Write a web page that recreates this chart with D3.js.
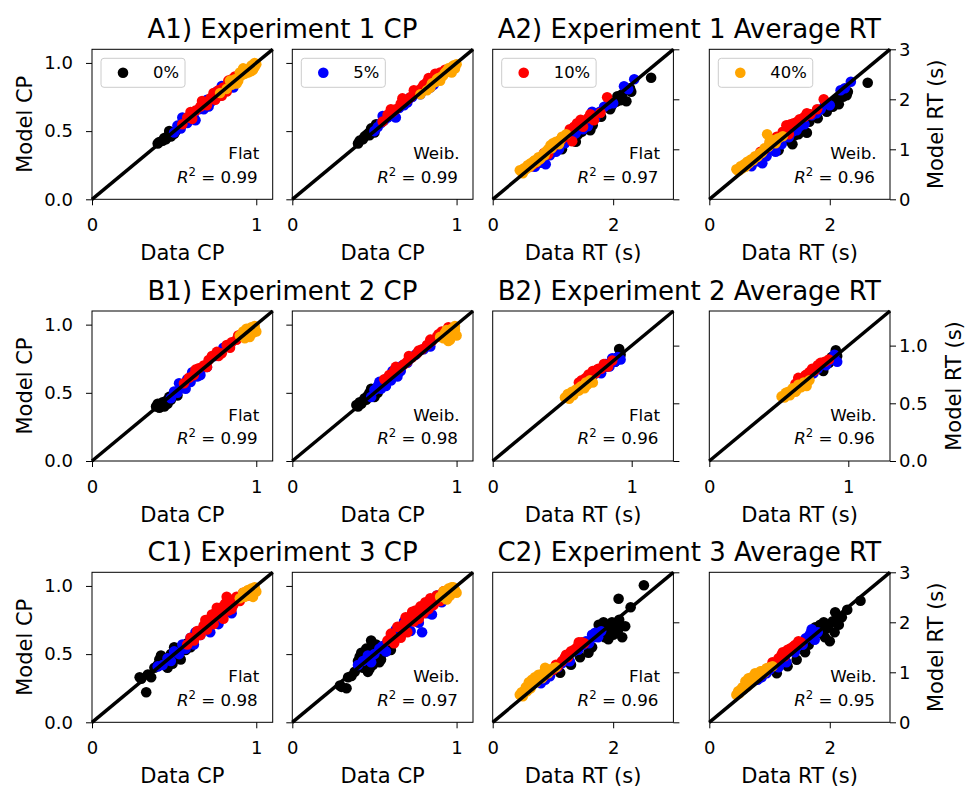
<!DOCTYPE html>
<html>
<head>
<meta charset="utf-8">
<script src="https://cdn.jsdelivr.net/npm/d3@7"></script>
<style>
  body { margin: 0; background: #fff; }
  svg { display: block; font-family: "DejaVu Sans", sans-serif; }
</style>
</head>
<body>
<script>
// conditions (legend) and the two models
const conditions = ["0%", "5%", "10%", "40%"];
const models = ["Flat", "Weib."];
const titles = [
  ["A1) Experiment 1 CP", "A2) Experiment 1 Average RT"],
  ["B1) Experiment 2 CP", "B2) Experiment 2 Average RT"],
  ["C1) Experiment 3 CP", "C2) Experiment 3 Average RT"]
];
const r2CP = [[0.99, 0.99], [0.99, 0.98], [0.98, 0.97]];
const r2RT = [[0.97, 0.96], [0.96, 0.96], [0.96, 0.95]];

// tick values / axis maxima
const cpMax = 1.1, cpXTicks = [0, 1], cpYTicks = [0, 0.5, 1.0];
const rtMax = 3, rtXTicks = [0, 2], rtYTicks = [0, 1, 2, 3];
const rt2Max = 1.3, rt2XTicks = [0, 1], rt2YTicks = [0, 0.5, 1.0];

// rows: [condition index, data, flat model, weibull model]
const exp1CP = [
  [0,0.40,0.41,0.41],[0,0.41,0.42,0.43],[0,0.43,0.43,0.44],[0,0.44,0.45,0.46],[0,0.45,0.44,0.47],[0,0.46,0.46,0.48],
  [0,0.47,0.47,0.49],[0,0.48,0.46,0.52],[0,0.49,0.49,0.50],[0,0.50,0.48,0.49],[0,0.51,0.50,0.55],[0,0.47,0.50,0.47],
  [1,0.50,0.49,0.50],[1,0.52,0.54,0.53],[1,0.54,0.52,0.56],[1,0.56,0.59,0.58],[1,0.58,0.56,0.60],[1,0.60,0.62,0.63],
  [1,0.62,0.60,0.61],[1,0.65,0.66,0.67],[1,0.68,0.66,0.69],[1,0.70,0.73,0.71],[1,0.73,0.72,0.75],[1,0.76,0.79,0.78],
  [1,0.78,0.76,0.77],[1,0.81,0.80,0.83],[1,0.84,0.85,0.82],[1,0.87,0.86,0.88],
  [1,0.55,0.60,0.61],[1,0.63,0.58,0.60],[1,0.71,0.68,0.74],[1,0.79,0.83,0.81],[1,0.86,0.82,0.84],
  [2,0.55,0.55,0.57],[2,0.58,0.60,0.62],[2,0.61,0.59,0.64],[2,0.63,0.65,0.66],[2,0.66,0.68,0.70],[2,0.68,0.71,0.72],
  [2,0.70,0.69,0.73],[2,0.72,0.74,0.75],[2,0.75,0.73,0.78],[2,0.77,0.80,0.80],[2,0.80,0.82,0.84],[2,0.82,0.79,0.86],
  [2,0.85,0.88,0.87],[2,0.88,0.86,0.90],[2,0.90,0.92,0.93],[2,0.93,0.94,0.95],
  [2,0.60,0.64,0.66],[2,0.67,0.72,0.74],[2,0.74,0.78,0.80],[2,0.83,0.87,0.89],[2,0.87,0.90,0.92],[2,0.79,0.76,0.82],
  [3,0.78,0.78,0.77],[3,0.82,0.81,0.80],[3,0.85,0.84,0.85],[3,0.87,0.88,0.86],[3,0.89,0.87,0.89],[3,0.91,0.91,0.90],
  [3,0.93,0.92,0.93],[3,0.94,0.95,0.94],[3,0.95,0.93,0.96],[3,0.96,0.96,0.95],[3,0.97,0.98,0.97],[3,0.98,0.95,0.98],
  [3,0.99,0.97,0.96],[3,1.00,0.99,0.99],[3,0.97,0.94,0.93],[3,0.99,1.00,0.98],
  [3,0.84,0.87,0.82],[3,0.88,0.85,0.88],[3,0.92,0.96,0.91],[3,0.90,0.93,0.87]
];
const exp1RT = [
  [0,1.15,1.00,0.98],[0,1.30,1.22,1.18],[0,1.38,1.15,1.10],[0,1.42,1.30,1.28],[0,1.55,1.45,1.40],[0,1.62,1.38,1.33],
  [0,1.66,1.48,1.55],[0,1.80,1.65,1.62],[0,1.95,1.80,1.75],[0,1.98,1.88,1.85],[0,2.07,2.06,1.95],[0,2.12,1.98,2.00],
  [0,2.15,2.10,1.90],[0,2.22,1.96,2.05],[0,2.28,2.22,2.08],[0,2.30,2.15,2.15],[0,2.63,2.43,2.33],
  [0,1.48,1.35,1.30],[0,2.05,1.95,1.85],
  [1,0.70,0.65,0.66],[1,0.80,0.73,0.76],[1,0.88,0.70,0.72],[1,0.95,0.88,0.86],[1,1.05,0.95,0.98],[1,1.10,1.00,0.95],
  [1,1.20,1.12,1.10],[1,1.32,1.25,1.24],[1,1.45,1.45,1.38],[1,1.50,1.40,1.46],[1,1.58,1.46,1.50],[1,1.65,1.75,1.70],
  [1,1.70,1.62,1.68],[1,1.85,1.85,1.80],[1,1.92,1.90,1.95],[1,2.00,1.92,1.88],[1,2.18,2.26,2.18],[1,2.35,2.40,2.35],
  [1,1.38,1.32,1.35],[1,1.78,1.75,1.72],[1,2.25,2.20,2.22],
  [2,0.62,0.65,0.68],[2,0.70,0.72,0.78],[2,0.78,0.80,0.85],[2,0.85,0.92,0.95],[2,0.92,0.90,1.00],[2,1.00,1.05,1.10],
  [2,1.08,1.12,1.20],[2,1.15,1.20,1.22],[2,1.22,1.25,1.35],[2,1.28,1.40,1.48],[2,1.32,1.16,1.30],[2,1.40,1.52,1.52],
  [2,1.46,1.59,1.55],[2,1.50,1.45,1.60],[2,1.58,1.62,1.65],[2,1.68,1.58,1.70],[2,1.79,1.73,1.80],[2,1.90,2.04,2.00],
  [2,1.12,1.18,1.25],[2,1.35,1.45,1.50],[2,1.62,1.70,1.72],
  [3,0.45,0.58,0.60],[3,0.48,0.55,0.57],[3,0.52,0.62,0.66],[3,0.55,0.60,0.62],[3,0.58,0.68,0.70],[3,0.60,0.64,0.65],
  [3,0.63,0.72,0.75],[3,0.66,0.70,0.72],[3,0.70,0.78,0.80],[3,0.73,0.75,0.78],[3,0.76,0.84,0.86],[3,0.80,0.82,0.85],
  [3,0.84,0.90,0.92],[3,0.88,0.95,0.94],[3,0.92,1.00,1.02],[3,0.96,1.08,1.30],[3,1.00,1.12,1.15],[3,1.05,1.15,1.18],
  [3,1.10,1.10,1.12],[3,1.15,1.25,1.22],[3,1.22,1.30,1.26],
  [3,0.50,0.52,0.58],[3,0.62,0.66,0.70],[3,0.68,0.76,0.78],[3,0.78,0.80,0.84],[3,0.86,0.88,0.92],[3,0.98,1.02,1.05],
  [3,1.12,1.18,1.20]
];
const exp2CP = [
  [0,0.39,0.40,0.41],[0,0.40,0.42,0.40],[0,0.41,0.39,0.43],[0,0.42,0.41,0.42],[0,0.43,0.43,0.44],[0,0.44,0.40,0.46],
  [0,0.45,0.44,0.45],[0,0.46,0.42,0.48],[0,0.47,0.47,0.50],[0,0.48,0.45,0.53],[0,0.50,0.49,0.47],[0,0.52,0.48,0.50],
  [1,0.48,0.46,0.47],[1,0.50,0.51,0.52],[1,0.52,0.50,0.55],[1,0.54,0.55,0.53],[1,0.56,0.54,0.58],[1,0.58,0.60,0.61],
  [1,0.60,0.58,0.59],[1,0.62,0.63,0.64],[1,0.64,0.62,0.62],[1,0.67,0.68,0.70],[1,0.70,0.69,0.72],[1,0.75,0.77,0.78],
  [1,0.80,0.83,0.82],[1,0.84,0.85,0.84],
  [1,0.53,0.57,0.58],[1,0.57,0.53,0.55],[1,0.61,0.65,0.66],[1,0.66,0.63,0.66],
  [2,0.56,0.57,0.60],[2,0.59,0.61,0.63],[2,0.62,0.63,0.66],[2,0.65,0.68,0.68],[2,0.68,0.70,0.71],[2,0.70,0.69,0.73],
  [2,0.73,0.77,0.76],[2,0.76,0.80,0.79],[2,0.79,0.79,0.82],[2,0.82,0.85,0.85],[2,0.85,0.87,0.88],[2,0.88,0.89,0.91],
  [2,0.91,0.93,0.95],[2,0.95,0.96,0.98],[2,0.98,0.95,0.97],
  [2,0.63,0.67,0.69],[2,0.71,0.74,0.77],[2,0.77,0.77,0.81],[2,0.84,0.83,0.89],[2,0.89,0.92,0.93],
  [3,0.90,0.92,0.91],[3,0.92,0.95,0.90],[3,0.93,0.90,0.94],[3,0.94,0.97,0.96],[3,0.95,0.93,0.88],[3,0.96,0.96,0.93],
  [3,0.97,0.98,0.97],[3,0.98,0.94,0.95],[3,0.99,0.97,0.99],[3,1.00,0.95,0.92],[3,0.99,0.99,0.96],[3,0.96,0.91,0.89],
  [3,0.93,0.93,0.92],[3,0.97,0.95,0.94]
];
const exp2RT = [
  [0,0.86,0.88,0.85],[0,0.88,0.86,0.90],[0,0.90,0.90,0.88],[0,0.91,0.97,0.96],[0,0.92,0.92,0.91],[0,0.82,0.82,0.78],
  [1,0.68,0.70,0.72],[1,0.72,0.74,0.73],[1,0.75,0.78,0.76],[1,0.78,0.76,0.80],[1,0.81,0.84,0.84],[1,0.84,0.82,0.83],
  [1,0.86,0.89,0.87],[1,0.88,0.86,0.88],[1,0.90,0.90,0.92],[1,0.92,0.88,0.86],
  [2,0.62,0.68,0.67],[2,0.64,0.70,0.72],[2,0.67,0.72,0.70],[2,0.70,0.73,0.75],[2,0.72,0.78,0.77],[2,0.74,0.76,0.80],
  [2,0.76,0.80,0.79],[2,0.78,0.80,0.83],[2,0.80,0.84,0.85],[2,0.83,0.82,0.86],[2,0.86,0.87,0.88],
  [2,0.69,0.75,0.74],[2,0.75,0.79,0.78],
  [3,0.52,0.55,0.56],[3,0.54,0.58,0.55],[3,0.55,0.54,0.59],[3,0.57,0.60,0.60],[3,0.58,0.57,0.57],[3,0.60,0.62,0.63],
  [3,0.62,0.61,0.60],[3,0.64,0.65,0.66],[3,0.66,0.63,0.64],[3,0.68,0.66,0.68],[3,0.70,0.70,0.65],[3,0.72,0.68,0.70],
  [3,0.56,0.57,0.58],[3,0.63,0.64,0.62],[3,0.67,0.68,0.66]
];
const exp3CP = [
  [0,0.29,0.33,0.27],[0,0.30,0.32,0.26],[0,0.33,0.22,0.25],[0,0.34,0.35,0.33],[0,0.36,0.33,0.34],[0,0.38,0.40,0.37],
  [0,0.40,0.42,0.45],[0,0.41,0.46,0.48],[0,0.43,0.44,0.40],[0,0.45,0.47,0.54],[0,0.46,0.40,0.37],[0,0.48,0.50,0.60],
  [0,0.49,0.43,0.42],[0,0.51,0.48,0.57],[0,0.52,0.53,0.49],[0,0.54,0.46,0.46],[0,0.55,0.56,0.51],[0,0.57,0.53,0.52],
  [0,0.58,0.58,0.59],[0,0.60,0.55,0.53],
  [0,0.42,0.49,0.51],[0,0.47,0.43,0.39],[0,0.50,0.55,0.56],[0,0.53,0.49,0.44],
  [1,0.40,0.41,0.42],[1,0.43,0.42,0.45],[1,0.46,0.47,0.49],[1,0.48,0.45,0.44],[1,0.50,0.52,0.50],[1,0.53,0.50,0.54],
  [1,0.55,0.57,0.56],[1,0.57,0.54,0.52],[1,0.60,0.62,0.63],[1,0.63,0.66,0.68],[1,0.66,0.64,0.70],[1,0.70,0.73,0.72],
  [1,0.72,0.66,0.67],[1,0.75,0.74,0.77],[1,0.79,0.77,0.66],[1,0.82,0.84,0.80],[1,0.85,0.80,0.79],[1,0.88,0.90,0.93],
  [1,0.91,0.93,0.88],
  [1,0.62,0.57,0.60],[1,0.68,0.70,0.74],[1,0.77,0.72,0.73],[1,0.84,0.87,0.85],
  [2,0.58,0.57,0.60],[2,0.60,0.62,0.65],[2,0.62,0.60,0.58],[2,0.64,0.67,0.70],[2,0.66,0.64,0.62],[2,0.68,0.71,0.72],
  [2,0.70,0.68,0.66],[2,0.72,0.76,0.78],[2,0.74,0.72,0.74],[2,0.75,0.80,0.82],[2,0.77,0.78,0.76],[2,0.78,0.84,0.85],
  [2,0.80,0.76,0.80],[2,0.81,0.87,0.88],[2,0.83,0.82,0.83],[2,0.84,0.90,0.91],[2,0.86,0.86,0.86],[2,0.88,0.92,0.93],
  [2,0.90,0.89,0.89],[2,0.92,0.95,0.96],[2,0.95,0.93,0.92],[2,0.97,0.96,0.97],[2,0.82,0.92,0.87],[2,0.76,0.84,0.79],
  [2,0.69,0.75,0.77],[2,0.73,0.79,0.81],[2,0.79,0.81,0.83],[2,0.85,0.83,0.88],
  [3,0.90,0.91,0.92],[3,0.92,0.95,0.96],[3,0.93,0.92,0.94],[3,0.95,0.97,0.98],[3,0.96,0.94,0.93],[3,0.97,0.98,0.99],
  [3,0.98,0.95,0.96],[3,0.99,0.99,0.97],[3,1.00,0.96,0.95],[3,0.94,0.96,0.90],[3,0.98,0.92,0.99]
];
const exp3RT = [
  [0,1.12,0.99,0.98],[0,1.30,1.15,1.12],[0,1.45,1.30,1.25],[0,1.59,1.39,1.40],[0,1.65,1.50,1.55],[0,1.76,1.95,1.90],
  [0,1.80,1.85,1.82],[0,1.84,2.00,1.95],[0,1.86,1.70,1.78],[0,1.90,1.90,2.00],[0,1.92,1.66,1.70],[0,1.95,1.80,1.88],
  [0,1.98,2.00,1.94],[0,2.00,1.75,1.62],[0,2.05,1.95,2.02],[0,2.08,1.85,1.80],[0,2.10,2.05,2.00],[0,2.15,1.70,1.95],
  [0,2.20,1.92,2.10],[0,2.09,2.47,2.20],[0,2.29,2.30,2.25],[0,2.51,2.74,2.43],[0,1.88,1.93,1.85],
  [1,0.80,0.78,0.85],[1,0.87,0.85,0.90],[1,0.95,0.92,0.98],[1,1.00,1.05,1.05],[1,1.08,1.10,1.15],[1,1.15,1.18,1.10],
  [1,1.22,1.28,1.30],[1,1.28,1.22,1.20],[1,1.35,1.42,1.45],[1,1.42,1.45,1.40],[1,1.50,1.55,1.58],[1,1.55,1.62,1.55],
  [1,1.60,1.58,1.68],[1,1.65,1.75,1.72],[1,1.70,1.79,1.86],[1,1.75,1.70,1.65],[1,1.80,1.82,1.80],
  [1,1.18,1.25,1.25],[1,1.45,1.52,1.50],[1,1.68,1.70,1.78],
  [2,0.85,0.92,0.95],[2,0.92,0.98,1.02],[2,1.00,1.05,1.10],[2,1.08,1.12,1.18],[2,1.15,1.22,1.28],[2,1.20,1.30,1.35],
  [2,1.25,1.30,1.32],[2,1.30,1.42,1.45],[2,1.35,1.45,1.48],[2,1.43,1.60,1.55],[2,1.48,1.60,1.62],[2,1.52,1.58,1.60],
  [2,1.05,1.15,1.20],[2,1.22,1.35,1.40],[2,1.40,1.50,1.52],
  [3,0.45,0.55,0.55],[3,0.48,0.60,0.62],[3,0.52,0.62,0.65],[3,0.55,0.70,0.70],[3,0.58,0.65,0.68],[3,0.60,0.80,0.82],
  [3,0.62,0.75,0.78],[3,0.65,0.85,0.88],[3,0.68,0.78,0.80],[3,0.70,0.90,0.90],[3,0.73,0.85,0.85],[3,0.76,0.95,0.98],
  [3,0.80,0.92,0.95],[3,0.85,1.00,1.02],[3,0.87,1.09,1.02],[3,0.90,1.00,1.00],[3,0.95,1.05,1.08],[3,1.00,1.08,1.10],
  [3,1.05,1.10,1.12],
  [3,0.50,0.52,0.58],[3,0.57,0.62,0.66],[3,0.63,0.68,0.72],[3,0.72,0.80,0.82],[3,0.82,0.88,0.92],[3,0.92,0.98,1.00]
];

const colors = ["black", "blue", "red", "orange"];

const W = 966, H = 787;
const svg = d3.select("body").append("svg").attr("width", W).attr("height", H);

const colLeft = [92, 292.3, 492.7, 709.3];
const pw = 180.7, ph = 150;
const rowTop = [49.3, 311, 572.3];

const rows = [
  {cp: exp1CP, rt: exp1RT, rtMax: rtMax, rtX: rtXTicks, rtY: rtYTicks, rtFmt: d3.format("d")},
  {cp: exp2CP, rt: exp2RT, rtMax: rt2Max, rtX: rt2XTicks, rtY: rt2YTicks, rtFmt: d3.format(".1f")},
  {cp: exp3CP, rt: exp3RT, rtMax: rtMax, rtX: rtXTicks, rtY: rtYTicks, rtFmt: d3.format("d")}
];

function styleAxis(g) {
  g.select(".domain").remove();
  g.selectAll(".tick line").attr("stroke", "#000").attr("stroke-width", 1);
  g.selectAll(".tick text").attr("fill", "#000").attr("font-size", 18)
    .attr("font-family", "DejaVu Sans");
}

rows.forEach((row, r) => {
  const top = rowTop[r];
  [0, 1].forEach(m => {
    const isRT = m === 1;
    // plot condition by condition: 0%, 5%, 10%, 40%
    const table = (isRT ? row.rt : row.cp).slice().sort((a, b) => a[0] - b[0]);
    const max = isRT ? row.rtMax : cpMax;
    const xt = isRT ? row.rtX : cpXTicks;
    const yt = isRT ? row.rtY : cpYTicks;
    const yFmt = isRT ? row.rtFmt : d3.format(".1f");

    // pair title
    const pairL = colLeft[m * 2], pairR = colLeft[m * 2 + 1] + pw;
    svg.append("text")
      .attr("x", (pairL + pairR) / 2 - (isRT ? 2 : 0)).attr("y", top - 11)
      .attr("text-anchor", "middle").attr("font-size", 26)
      .text(titles[r][m]);

    [0, 1].forEach(k => {
      const c = m * 2 + k;
      const g = svg.append("g").attr("transform", `translate(${colLeft[c]},${top})`);
      const x = d3.scaleLinear().domain([0, max]).range([0, pw]);
      const y = d3.scaleLinear().domain([0, max]).range([ph, 0]);

      g.append("g").selectAll("circle").data(table).join("circle")
        .attr("cx", d => x(d[1])).attr("cy", d => y(d[2 + k]))
        .attr("r", 5.3).attr("fill", d => colors[d[0]]);

      // identity line across the whole panel
      const line = d3.line().x(d => x(d)).y(d => y(d));
      g.append("path").datum(x.domain())
        .attr("d", line).attr("stroke", "#000").attr("stroke-width", 3.5).attr("fill", "none");

      g.append("rect").attr("width", pw).attr("height", ph)
        .attr("fill", "none").attr("stroke", "#000").attr("stroke-width", 1);

      // x axis
      g.append("g").attr("transform", `translate(0,${ph})`)
        .call(d3.axisBottom(x).tickValues(xt).tickSize(6).tickPadding(13).tickFormat(d3.format("d")))
        .call(styleAxis);
      g.append("text").attr("x", pw / 2).attr("y", ph + 61)
        .attr("text-anchor", "middle").attr("font-size", 21)
        .text(isRT ? "Data RT (s)" : "Data CP");

      // y axis
      if (!isRT) {
        g.append("g")
          .call(d3.axisLeft(y).tickValues(yt).tickSize(6).tickPadding(13)
            .tickFormat(k === 0 ? yFmt : () => ""))
          .call(styleAxis);
        if (k === 0) {
          g.append("text").attr("transform", `translate(${32 - colLeft[c]},${ph / 2}) rotate(-90)`)
            .attr("text-anchor", "middle").attr("font-size", 21).text("Model CP");
        }
      } else {
        const ax = g.append("g").attr("transform", `translate(${pw},0)`)
          .call(d3.axisRight(y).tickValues(yt).tickSize(6).tickPadding(3)
            .tickFormat(k === 1 ? yFmt : () => ""))
          .call(styleAxis);
        if (k === 1) {
          const bb = ax.node().getBBox();
          const lx = pw + bb.x + bb.width + 33;
          g.append("text").attr("transform", `translate(${lx},${ph / 2}) rotate(-90)`)
            .attr("text-anchor", "middle").attr("font-size", 21).text("Model RT (s)");
        }
      }

      // annotation
      const r2 = isRT ? r2RT[r][k] : r2CP[r][k];
      g.append("text").attr("x", pw - 13.4).attr("y", ph - 40)
        .attr("text-anchor", "end").attr("font-size", 16.7).text(models[k]);
      const t = g.append("text").attr("x", pw - 15).attr("y", ph - 16.6)
        .attr("text-anchor", "end").attr("font-size", 16.7);
      t.append("tspan").attr("font-style", "italic").text("R");
      t.append("tspan").attr("dy", -7).attr("font-size", 11.7).text("2");
      t.append("tspan").attr("dy", 7).text(" = " + r2.toFixed(2));

      // legend (top row only, one condition per panel)
      if (r === 0) {
        const lg = g.append("g").attr("transform", "translate(9,9)");
        const box = lg.append("rect").attr("height", 29).attr("rx", 3)
          .attr("fill", "#fff").attr("fill-opacity", 0.8)
          .attr("stroke", "#cccccc").attr("stroke-width", 1);
        lg.append("circle").attr("cx", 22).attr("cy", 14.4).attr("r", 5.3).attr("fill", colors[c]);
        const lt = lg.append("text").attr("x", 52).attr("y", 20.2).attr("font-size", 16.4).text(conditions[c]);
        box.attr("width", 52 + lt.node().getComputedTextLength() + 6);
      }
    });
  });
});
</script>
</body>
</html>
